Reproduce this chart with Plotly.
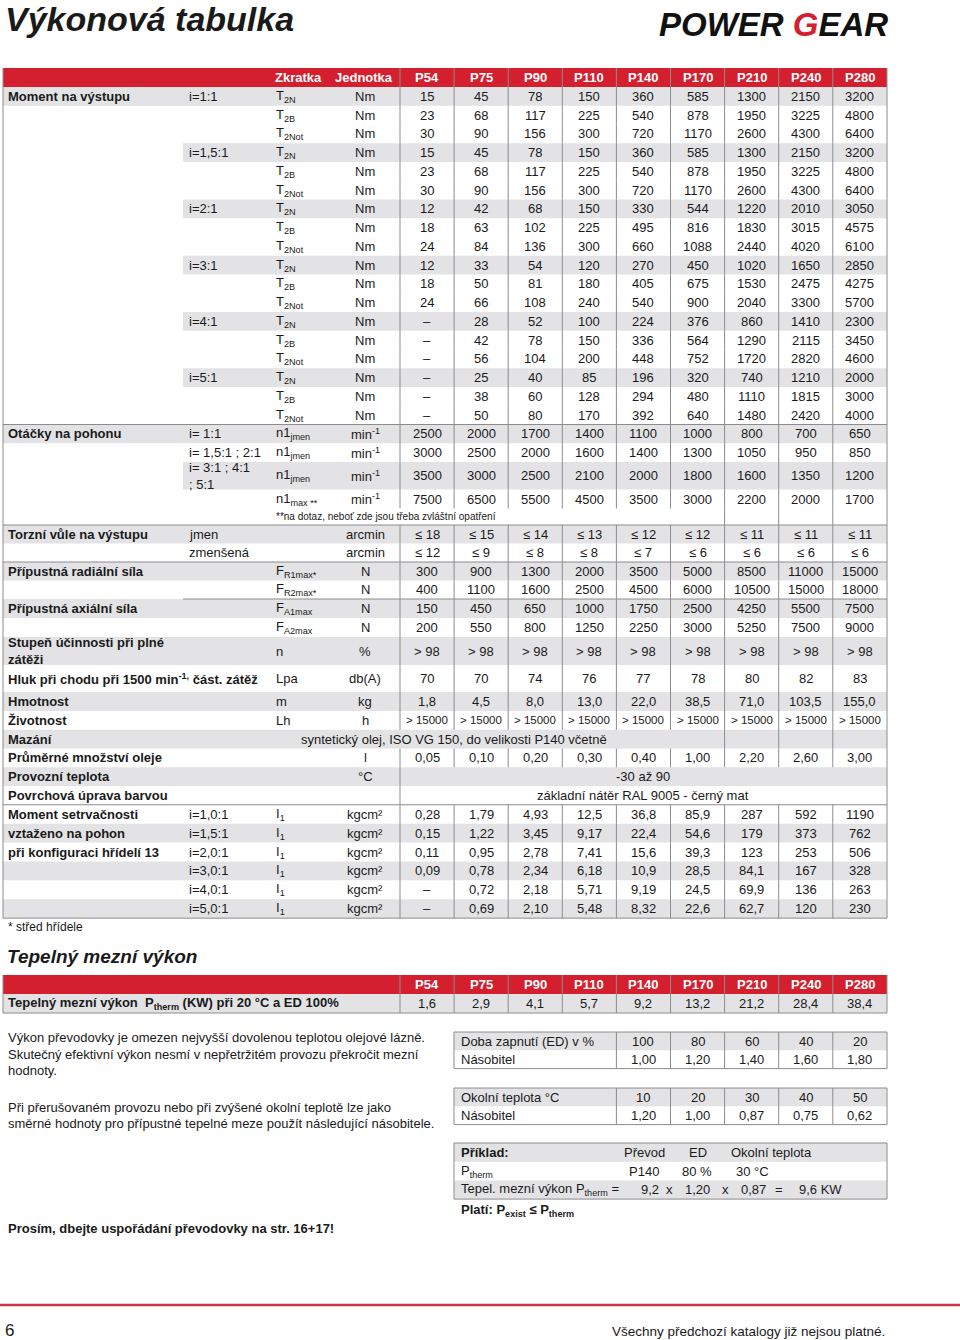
import plotly.graph_objects as go

# ---------------------------------------------------------------- data
SIZES = ["P54", "P75", "P90", "P110", "P140", "P170", "P210", "P240", "P280"]

T2N_1 = [15, 45, 78, 150, 360, 585, 1300, 2150, 3200]
T2B_1 = [23, 68, 117, 225, 540, 878, 1950, 3225, 4800]
T2NOT_1 = [30, 90, 156, 300, 720, 1170, 2600, 4300, 6400]
T2N_15 = [15, 45, 78, 150, 360, 585, 1300, 2150, 3200]
T2B_15 = [23, 68, 117, 225, 540, 878, 1950, 3225, 4800]
T2NOT_15 = [30, 90, 156, 300, 720, 1170, 2600, 4300, 6400]
T2N_2 = [12, 42, 68, 150, 330, 544, 1220, 2010, 3050]
T2B_2 = [18, 63, 102, 225, 495, 816, 1830, 3015, 4575]
T2NOT_2 = [24, 84, 136, 300, 660, 1088, 2440, 4020, 6100]
T2N_3 = [12, 33, 54, 120, 270, 450, 1020, 1650, 2850]
T2B_3 = [18, 50, 81, 180, 405, 675, 1530, 2475, 4275]
T2NOT_3 = [24, 66, 108, 240, 540, 900, 2040, 3300, 5700]
T2N_4 = [None, 28, 52, 100, 224, 376, 860, 1410, 2300]
T2B_4 = [None, 42, 78, 150, 336, 564, 1290, 2115, 3450]
T2NOT_4 = [None, 56, 104, 200, 448, 752, 1720, 2820, 4600]
T2N_5 = [None, 25, 40, 85, 196, 320, 740, 1210, 2000]
T2B_5 = [None, 38, 60, 128, 294, 480, 1110, 1815, 3000]
T2NOT_5 = [None, 50, 80, 170, 392, 640, 1480, 2420, 4000]

N1_RATIO_1 = [2500, 2000, 1700, 1400, 1100, 1000, 800, 700, 650]
N1_RATIO_15_2 = [3000, 2500, 2000, 1600, 1400, 1300, 1050, 950, 850]
N1_RATIO_3_4_5 = [3500, 3000, 2500, 2100, 2000, 1800, 1600, 1350, 1200]
N1_MAX = [7500, 6500, 5500, 4500, 3500, 3000, 2200, 2000, 1700]

BACKLASH_STD = [18, 15, 14, 13, 12, 12, 11, 11, 11]
BACKLASH_RED = [12, 9, 8, 8, 7, 6, 6, 6, 6]
FR1 = [300, 900, 1300, 2000, 3500, 5000, 8500, 11000, 15000]
FR2 = [400, 1100, 1600, 2500, 4500, 6000, 10500, 15000, 18000]
FA1 = [150, 450, 650, 1000, 1750, 2500, 4250, 5500, 7500]
FA2 = [200, 550, 800, 1250, 2250, 3000, 5250, 7500, 9000]
EFFICIENCY = [98, 98, 98, 98, 98, 98, 98, 98, 98]
NOISE = [70, 70, 74, 76, 77, 78, 80, 82, 83]
MASS = [1.8, 4.5, 8.0, 13.0, 22.0, 38.5, 71.0, 103.5, 155.0]
LIFE = [15000, 15000, 15000, 15000, 15000, 15000, 15000, 15000, 15000]
OIL = [0.05, 0.10, 0.20, 0.30, 0.40, 1.00, 2.20, 2.60, 3.00]

INERTIA_1 = ["0,28", "1,79", "4,93", "12,5", "36,8", "85,9", "287", "592", "1190"]
INERTIA_15 = ["0,15", "1,22", "3,45", "9,17", "22,4", "54,6", "179", "373", "762"]
INERTIA_2 = ["0,11", "0,95", "2,78", "7,41", "15,6", "39,3", "123", "253", "506"]
INERTIA_3 = ["0,09", "0,78", "2,34", "6,18", "10,9", "28,5", "84,1", "167", "328"]
INERTIA_4 = [None, "0,72", "2,18", "5,71", "9,19", "24,5", "69,9", "136", "263"]
INERTIA_5 = [None, "0,69", "2,10", "5,48", "8,32", "22,6", "62,7", "120", "230"]

THERMAL = [1.6, 2.9, 4.1, 5.7, 9.2, 13.2, 21.2, 28.4, 38.4]

ED = [100, 80, 60, 40, 20]
ED_FACTOR = [1.00, 1.20, 1.40, 1.60, 1.80]
AMBIENT = [10, 20, 30, 40, 50]
AMBIENT_FACTOR = [1.20, 1.00, 0.87, 0.75, 0.62]

EXAMPLE_SIZE = "P140"
EXAMPLE_ED = 80
EXAMPLE_TEMP = 30

# ---------------------------------------------------------------- style
FONT = "Liberation Sans, Arial, Helvetica, sans-serif"
NARROW = "Liberation Sans Narrow, Arial Narrow, Liberation Sans, sans-serif"
RED = "#d4202e"
FILL = "#e3e3e5"
LINE = "#8c8c8c"
TEXT = "#1a1a1a"

LEFT, RIGHT, SPLIT = 3, 887, 183
COL0, COLW = 400, 54.1
EDGES = [COL0 + COLW * k for k in range(10)]
CENTERS = [(a + b) / 2 for a, b in zip(EDGES[:-1], EDGES[1:])]
X_RATIO, X_ABBR, X_UNIT = 188, 275, 365

fig = go.Figure(go.Scatter(x=[], y=[], hoverinfo="skip", showlegend=False))


def rect(x0, x1, y0, y1, color):
    fig.add_shape(type="rect", x0=x0, x1=x1, y0=y0, y1=y1, xref="x", yref="y",
                  fillcolor=color, line_width=0, layer="below")


def seg(x0, y0, x1, y1, color=LINE, width=1):
    fig.add_shape(type="line", x0=x0, x1=x1, y0=y0, y1=y1, xref="x", yref="y",
                  line=dict(color=color, width=width))


def txt(x, y, s, size=13, anchor="left", color=TEXT, bold=False, family=FONT):
    fig.add_annotation(x=x, y=y, xref="x", yref="y", text="<b>%s</b>" % s if bold else s,
                       showarrow=False, xanchor=anchor, yanchor="middle", align=anchor,
                       font=dict(size=size, color=color, family=family), borderpad=0)


def fmt(v, dec=0, prefix=""):
    if v is None:
        return "–"
    if isinstance(v, str):
        return v
    return prefix + ("%.*f" % (dec, v)).replace(".", ",")


def vals(arr, dec=0, prefix=""):
    return [fmt(v, dec, prefix) for v in arr]


def row(h, fill=None, label=None, ratio=None, abbr=None, unit=None, values=None,
        span=None, seps="all", rule=None, vsize=13):
    return dict(h=h, fill=fill, label=label, ratio=ratio, abbr=abbr, unit=unit,
                values=values, span=span, seps=seps, rule=rule, vsize=vsize)


# ---------------------------------------------------------------- title / logo
txt(4, 19, "<b><i>Výkonová tabulka</i></b>", size=34)
txt(889, 24, "<b><i>POWER <span style='color:%s'>G</span>EAR</i></b>" % RED,
    size=33, anchor="right", color="#111111", family=NARROW)

# ---------------------------------------------------------------- main table
moment_groups = [
    ("i=1:1", T2N_1, T2B_1, T2NOT_1),
    ("i=1,5:1", T2N_15, T2B_15, T2NOT_15),
    ("i=2:1", T2N_2, T2B_2, T2NOT_2),
    ("i=3:1", T2N_3, T2B_3, T2NOT_3),
    ("i=4:1", T2N_4, T2B_4, T2NOT_4),
    ("i=5:1", T2N_5, T2B_5, T2NOT_5),
]
rows = []
for g, (ratio, tn, tb, tnot) in enumerate(moment_groups):
    rows.append(row(18.75, "full" if g == 0 else "part", "Moment na výstupu" if g == 0 else None,
                    ratio, "T<sub>2N</sub>", "Nm", vals(tn)))
    rows.append(row(18.75, None, None, None, "T<sub>2B</sub>", "Nm", vals(tb)))
    rows.append(row(18.75, None, None, None, "T<sub>2Not</sub>", "Nm", vals(tnot)))

mn = "min<sup>-1</sup>"
rows += [
    row(18.75, "full", "Otáčky na pohonu", "i= 1:1", "n1<sub>jmen</sub>", mn, vals(N1_RATIO_1), rule=LEFT),
    row(18.75, None, None, "i= 1,5:1 ; 2:1", "n1<sub>jmen</sub>", mn, vals(N1_RATIO_15_2)),
    row(27.5, "part", None, "i= 3:1 ; 4:1<br>; 5:1", "n1<sub>jmen</sub>", mn, vals(N1_RATIO_3_4_5)),
    row(19, None, None, None, "n1<sub>max **</sub>", mn, vals(N1_MAX)),
    row(16.5, None, None, None, None, None, None, seps="right3",
        span=(X_ABBR, "left", "**na dotaz, neboť zde jsou třeba zvláštní opatření", 10)),
    row(18.5, "full", "Torzní vůle na výstupu", "jmen", None, "arcmin", vals(BACKLASH_STD, prefix="≤ "), rule=LEFT),
    row(18.5, None, None, "zmenšená", None, "arcmin", vals(BACKLASH_RED, prefix="≤ ")),
    row(18.5, "full", "Přípustná radiální síla", None, "F<sub>R1max*</sub>", "N", vals(FR1), rule=LEFT),
    row(18.5, None, None, None, "F<sub>R2max*</sub>", "N", vals(FR2)),
    row(19, "full", "Přípustná axiální síla", None, "F<sub>A1max</sub>", "N", vals(FA1), rule=SPLIT),
    row(19, None, None, None, "F<sub>A2max</sub>", "N", vals(FA2)),
    row(28, "full", "Stupeň účinnosti při plné<br>zátěži", None, "n", "%", vals(EFFICIENCY, prefix="> ")),
    row(27, None, "Hluk při chodu při 1500 min<sup>-1,</sup> část. zátěž", None, "Lpa", "db(A)", vals(NOISE)),
    row(19, "full", "Hmotnost", None, "m", "kg", vals(MASS, 1)),
    row(18.75, None, "Životnost", None, "Lh", "h", vals(LIFE, prefix="> "), vsize=11.5),
    row(18.75, "full", "Mazání", None, None, None, None, seps="right3",
        span=((SPLIT + EDGES[6]) / 2, "center", "syntetický olej, ISO VG 150, do velikosti P140 včetně", 13)),
    row(18.75, None, "Průměrné množství oleje", None, None, "l", vals(OIL, 2)),
    row(18.75, "full", "Provozní teplota", None, None, "°C", None, seps="first",
        span=((EDGES[0] + EDGES[-1]) / 2, "center", "-30 až 90", 13)),
    row(18.75, None, "Povrchová úprava barvou", None, None, None, None, seps="first",
        span=((EDGES[0] + EDGES[-1]) / 2, "center", "základní nátěr RAL 9005 - černý mat", 13)),
]
inertia = [("i=1,0:1", INERTIA_1, "Moment setrvačnosti"), ("i=1,5:1", INERTIA_15, "vztaženo na pohon"),
           ("i=2,0:1", INERTIA_2, "při konfiguraci hřídelí 13"), ("i=3,0:1", INERTIA_3, None),
           ("i=4,0:1", INERTIA_4, None), ("i=5,0:1", INERTIA_5, None)]
for k, (ratio, arr, label) in enumerate(inertia):
    rows.append(row(18.9, "full" if k % 2 else None, label, ratio, "I<sub>1</sub>", "kgcm²", vals(arr),
                    rule=LEFT if k == 0 else None))

TOP = 68
HEAD = 87
rect(LEFT, RIGHT, TOP, HEAD, RED)
txt(298, (TOP + HEAD) / 2, "Zkratka", color="white", bold=True, anchor="center")
txt(364, (TOP + HEAD) / 2, "Jednotka", color="white", bold=True, anchor="center")
for c, s in zip(CENTERS, SIZES):
    txt(c, (TOP + HEAD) / 2, s, color="white", bold=True, anchor="center")
for x in EDGES[:-1]:
    seg(x, TOP, x, HEAD)

y = HEAD
for r in rows:
    top, bot = y, y + r["h"]
    mid = (top + bot) / 2
    if r["fill"] == "full":
        rect(LEFT, RIGHT, top, bot, FILL)
    elif r["fill"] == "part":
        rect(SPLIT, RIGHT, top, bot, FILL)
    if r["seps"] == "all":
        xs = EDGES[:-1]
    elif r["seps"] == "right3":
        xs = EDGES[6:9]
    else:
        xs = EDGES[:1]
    for x in xs:
        seg(x, top, x, bot)
    if r["rule"] is not None:
        seg(r["rule"], top, RIGHT, top)
    if r["label"]:
        txt(7, mid, r["label"], bold=True)
    if r["ratio"]:
        txt(X_RATIO, mid, r["ratio"])
    if r["abbr"]:
        txt(X_ABBR, mid, r["abbr"])
    if r["unit"]:
        txt(X_UNIT, mid, r["unit"], anchor="center")
    if r["values"]:
        for c, v in zip(CENTERS, r["values"]):
            txt(c, mid, v, anchor="center", size=r["vsize"])
    if r["span"]:
        sx, sa, st, ss = r["span"]
        txt(sx, mid, st, anchor=sa, size=ss)
    y = bot
BOTTOM = y
seg(LEFT, TOP, LEFT, BOTTOM)
seg(RIGHT, TOP, RIGHT, BOTTOM)
seg(LEFT, BOTTOM, RIGHT, BOTTOM)

txt(7, 927, "* střed hřídele", size=12)

# ---------------------------------------------------------------- thermal table
txt(6, 956, "<b><i>Tepelný mezní výkon</i></b>", size=19)
T_TOP, T_MID, T_BOT = 975, 994, 1013
rect(LEFT, RIGHT, T_TOP, T_MID, RED)
rect(LEFT, RIGHT, T_MID, T_BOT, FILL)
for c, s, v in zip(CENTERS, SIZES, THERMAL):
    txt(c, (T_TOP + T_MID) / 2, s, color="white", bold=True, anchor="center")
    txt(c, (T_MID + T_BOT) / 2, fmt(v, 1), anchor="center")
for x in EDGES[:-1]:
    seg(x, T_TOP, x, T_BOT)
seg(LEFT, T_TOP, LEFT, T_BOT)
seg(RIGHT, T_TOP, RIGHT, T_BOT)
seg(LEFT, T_BOT, RIGHT, T_BOT)
txt(7, (T_MID + T_BOT) / 2, "Tepelný mezní výkon  P<sub>therm</sub> (KW) při 20 °C a ED 100%", bold=True)

# ---------------------------------------------------------------- notes
for yy, s in [(1037, "Výkon převodovky je omezen nejvyšší dovolenou teplotou olejové lázně."),
              (1054, "Skutečný efektivní výkon nesmí v nepřetržitém provozu překročit mezní"),
              (1070, "hodnoty."),
              (1107, "Při přerušovaném provozu nebo při zvýšené okolní teplotě lze jako"),
              (1123, "směrné hodnoty pro přípustné tepelné meze použít následující násobitele.")]:
    txt(7, yy, s)
txt(7, 1228, "Prosím, dbejte uspořádání převodovky na str. 16+17!", bold=True)

# ---------------------------------------------------------------- factor tables
SMALL_L = 454
SMALL_EDGES = EDGES[4:]
SMALL_CENTERS = CENTERS[4:]


def factor_table(y0, head, keys, factors):
    h = 18.3
    rect(SMALL_L, RIGHT, y0, y0 + h, FILL)
    txt(460, y0 + h / 2, head)
    txt(460, y0 + 1.5 * h, "Násobitel")
    for c, k, f in zip(SMALL_CENTERS, keys, factors):
        txt(c, y0 + h / 2, str(k), anchor="center")
        txt(c, y0 + 1.5 * h, fmt(f, 2), anchor="center")
    for x in SMALL_EDGES[:-1]:
        seg(x, y0, x, y0 + 2 * h)
    fig.add_shape(type="rect", x0=SMALL_L, x1=RIGHT, y0=y0, y1=y0 + 2 * h, xref="x", yref="y",
                  line=dict(color=LINE, width=1))


factor_table(1032, "Doba zapnutí (ED) v %", ED, ED_FACTOR)
factor_table(1088, "Okolní teplota °C", AMBIENT, AMBIENT_FACTOR)

# example
p_th = THERMAL[SIZES.index(EXAMPLE_SIZE)]
f_ed = ED_FACTOR[ED.index(EXAMPLE_ED)]
f_amb = AMBIENT_FACTOR[AMBIENT.index(EXAMPLE_TEMP)]
E0, EH = 1143, 18.7
rect(SMALL_L, RIGHT, E0, E0 + EH, FILL)
rect(SMALL_L, RIGHT, E0 + 2 * EH, E0 + 3 * EH, FILL)
fig.add_shape(type="rect", x0=SMALL_L, x1=RIGHT, y0=E0, y1=E0 + 3 * EH, xref="x", yref="y",
              line=dict(color=LINE, width=1))
r1, r2, r3 = E0 + EH / 2, E0 + 1.5 * EH, E0 + 2.5 * EH
txt(460, r1, "Příklad:", bold=True)
txt(644, r1, "Převod", anchor="center")
txt(698, r1, "ED", anchor="center")
txt(771, r1, "Okolní teplota", anchor="center")
txt(460, r2, "P<sub>therm</sub>")
txt(644, r2, EXAMPLE_SIZE, anchor="center")
txt(697, r2, "%d %%" % EXAMPLE_ED, anchor="center")
txt(752, r2, "%d °C" % EXAMPLE_TEMP, anchor="center")
txt(460, r3, "Tepel. mezní výkon P<sub>therm</sub> =")
txt(650, r3, fmt(p_th, 1), anchor="center")
txt(669, r3, "x", anchor="center")
txt(697, r3, fmt(f_ed, 2), anchor="center")
txt(725, r3, "x", anchor="center")
txt(753, r3, fmt(f_amb, 2), anchor="center")
txt(779, r3, "=", anchor="center")
txt(798, r3, fmt(p_th * f_ed * f_amb, 1) + " KW")
txt(460, 1210, "Platí: P<sub>exist</sub> ≤ P<sub>therm</sub>", bold=True)

# ---------------------------------------------------------------- footer
seg(0, 1305, 960, 1305, color="#c23a4e", width=2.5)
txt(4, 1330, "6", size=17)
txt(886, 1331, "Všechny předchozí katalogy již nejsou platné.", size=13.5, anchor="right", family=NARROW)

fig.update_xaxes(range=[0, 960], visible=False, fixedrange=True)
fig.update_yaxes(range=[1340, 0], visible=False, fixedrange=True)
fig.update_layout(
    width=960,
    height=1340,
    margin=dict(l=0, r=0, t=0, b=0),
    paper_bgcolor="white",
    plot_bgcolor="white",
    showlegend=False,
)
# drop the default 8px page margin so the figure sits at the window's corner
fig.write_html("out.html", config={"displayModeBar": False},
               post_script="document.body.style.margin='0px';")
